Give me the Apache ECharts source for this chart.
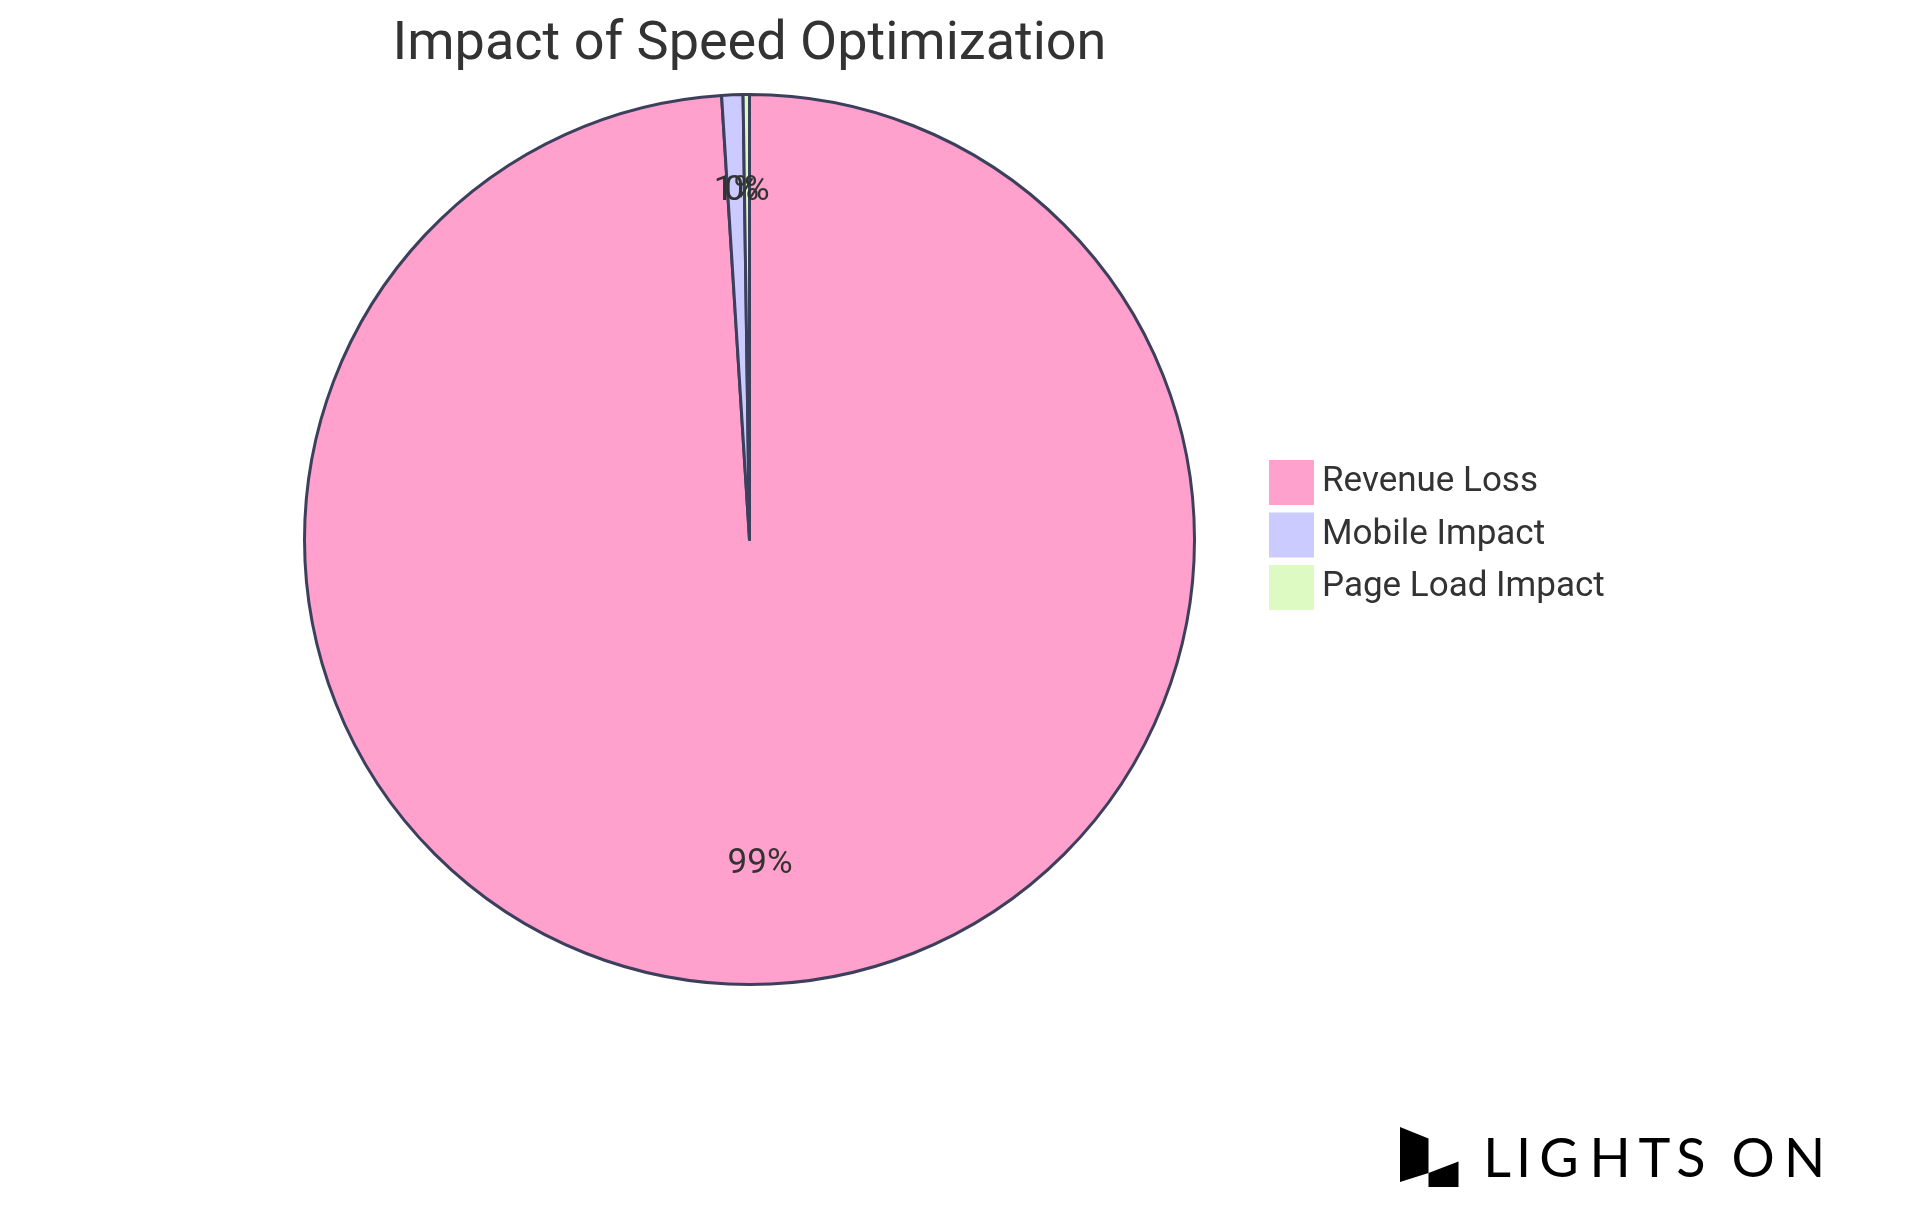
<!DOCTYPE html>
<html>
<head>
<meta charset="utf-8">
<script src="https://cdn.jsdelivr.net/npm/echarts@6/dist/echarts.min.js"></script>
<style>
html,body{margin:0;padding:0;background:#fff;}
#chart{width:1920px;height:1215px;}
</style>
</head>
<body>
<div id="chart"></div>
<script>
const titleText = 'Impact of Speed Optimization';
const categories = ['Revenue Loss', 'Mobile Impact', 'Page Load Impact'];
const values = [99.0, 0.77, 0.23];
const colors = ['#ffa1cc', '#cbcbff', '#ddfac2'];
const logoLetters = ['L','I','G','H','T','S','O','N'];

const pieData = categories.map((name, i) => ({ name: name, value: values[i], itemStyle: { color: colors[i] } }));
const labelData = categories.map((name, i) => ({ name: name, value: values[i] }));

const CX = 749.5, CY = 539.5, R = 445;
const FONT = 'Roboto, "Noto Sans", sans-serif';

const letterCenters = [1497, 1523.5, 1559, 1610, 1654.5, 1691, 1753, 1804.5];

const chart = echarts.init(document.getElementById('chart'), null, { renderer: 'canvas' });

const graphics = [
  { type: 'polygon', shape: { points: [[1400,1127],[1428.5,1138.5],[1428.5,1173],[1400,1182]] }, style: { fill: '#000' } },
  { type: 'polygon', shape: { points: [[1428.5,1173],[1458.5,1161.5],[1458.5,1187],[1428.5,1187]] }, style: { fill: '#000' } }
];
logoLetters.forEach((ch, i) => {
  graphics.push({
    type: 'text',
    x: letterCenters[i], y: 1187,
    style: { text: ch, fill: '#000', font: '400 54px Lato, Roboto, sans-serif', textAlign: 'center', textVerticalAlign: 'bottom' }
  });
});

chart.setOption({
  animation: false,
  backgroundColor: '#ffffff',
  title: {
    text: titleText,
    left: CX, top: 18, textAlign: 'center', padding: 0,
    textStyle: { fontFamily: FONT, fontSize: 54, fontWeight: 400, color: '#333333' }
  },
  legend: {
    orient: 'vertical',
    left: 1269, top: 460, padding: 0,
    itemWidth: 45, itemHeight: 45, itemGap: 7.5,
    icon: 'rect',
    data: categories,
    itemStyle: { borderWidth: 0 },
    textStyle: { fontFamily: FONT, fontSize: 35, color: '#333333', padding: [0,0,0,3] }
  },
  graphic: graphics,
  series: [
    {
      type: 'pie',
      center: [CX, CY], radius: R,
      startAngle: 90, clockwise: true,
      data: pieData,
      label: { show: false }, labelLine: { show: false },
      itemStyle: { borderColor: '#3c405c', borderWidth: 3 },
      emphasis: { disabled: true }
    },
    {
      type: 'pie',
      center: [CX, CY], radius: [R * 0.5, R],
      startAngle: 90, clockwise: true,
      minShowLabelAngle: 0,
      avoidLabelOverlap: false,
      data: labelData,
      silent: true,
      itemStyle: { color: 'rgba(0,0,0,0)', borderWidth: 0 },
      label: {
        show: true, position: 'inside',
        fontFamily: FONT, fontSize: 35, color: '#333333',
        formatter: p => Math.round(p.percent) + '%'
      },
      labelLayout: function () { return { dy: -12, hideOverlap: false }; },
      labelLine: { show: false },
      emphasis: { disabled: true }
    }
  ]
});
</script>
</body>
</html>
